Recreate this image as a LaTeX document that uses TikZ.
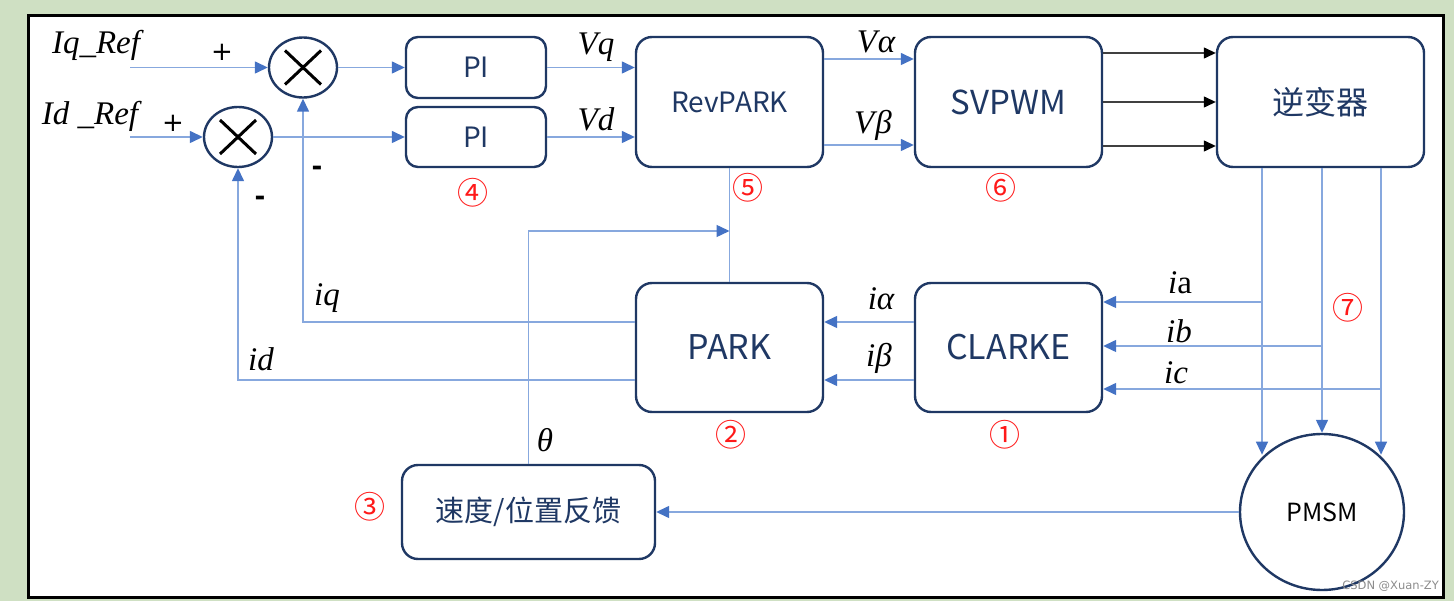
\documentclass[tikz,border=0pt]{standalone}
\usepackage{fontspec}
\setmainfont{Liberation Serif}
\newfontfamily\cjk{Noto Sans CJK SC}
\newfontfamily\djv{DejaVu Sans}
\usetikzlibrary{arrows.meta,shapes.geometric,calc}
\definecolor{bggreen}{RGB}{207,224,195}
\definecolor{navy}{RGB}{31,56,100}
\definecolor{lblue}{RGB}{135,168,222}
\definecolor{ablue}{RGB}{68,114,196}
\definecolor{cred}{RGB}{255,25,25}
\begin{document}
\begin{tikzpicture}[x=1pt,y=-1pt,
  box/.style={draw=navy,line width=2.4pt,rounded corners=16pt,text=navy,inner sep=0pt,font=\cjk\fontsize{30}{36}\selectfont},
  sumj/.style={ellipse,draw=navy,line width=2.4pt,minimum width=68pt,minimum height=60pt,inner sep=0pt},
  arr/.style={draw=lblue,line width=1.4pt,-{Triangle[length=13pt,width=12pt,color=ablue]}},
  plain/.style={draw=lblue,line width=1.4pt},
  barr/.style={draw=black!75,line width=1.3pt,-{Triangle[length=12pt,width=11pt,color=black]}},
  lab/.style={font=\itshape\fontsize{33}{38}\selectfont,inner sep=0pt},
  num/.style={text=cred,font=\cjk\fontsize{31}{34}\selectfont,inner sep=0pt},
  sgn/.style={font=\djv\fontsize{26}{30}\selectfont,inner sep=0pt},
  msgn/.style={font=\djv\bfseries\fontsize{26}{30}\selectfont,inner sep=0pt}
]
\useasboundingbox (0,0) rectangle (1454,601);
\fill[bggreen] (0,0) rectangle (1454,601);
\draw[black,line width=3pt,fill=white] (28,16) rectangle (1443,597);

% blocks
\node[sumj] (S1) at (303,67.5) {};
\node[sumj] (S2) at (238,137) {};
\foreach \s in {S1,S2}{
  \draw[black,line width=3pt] ($(\s)+(-18,-17)$) -- ($(\s)+(18,17)$);
  \draw[black,line width=3pt] ($(\s)+(-18,17)$) -- ($(\s)+(18,-17)$);
}
\node[box,minimum width=140pt,minimum height=61pt,rounded corners=12pt,font=\cjk\fontsize{28}{32}\selectfont] (PI1) at (476,67.5) {PI};
\node[box,minimum width=140pt,minimum height=60pt,rounded corners=12pt,font=\cjk\fontsize{28}{32}\selectfont] (PI2) at (476,137) {PI};
\node[box,minimum width=187pt,minimum height=130pt,font=\cjk\fontsize{28}{32}\selectfont] (RP) at (729.5,102) {RevPARK};
\node[box,minimum width=187pt,minimum height=130pt,font=\cjk\fontsize{33}{38}\selectfont] (SV) at (1008.5,102) {SVPWM};
\node[box,minimum width=207pt,minimum height=130pt,font=\cjk\fontsize{32}{38}\selectfont] (INV) at (1320.5,102) {逆变器};
\node[box,minimum width=187pt,minimum height=129pt,font=\cjk\fontsize{34}{38}\selectfont] (PK) at (729.5,347.5) {PARK};
\node[box,minimum width=187pt,minimum height=129pt,font=\cjk\fontsize{34}{38}\selectfont] (CL) at (1008.5,347.5) {CLARKE};
\node[box,minimum width=253pt,minimum height=94pt,font=\cjk\fontsize{29}{34}\selectfont] (SP) at (528.5,512) {速度/位置反馈};
\node[ellipse,draw=navy,line width=2.4pt,minimum width=164pt,minimum height=156pt,inner sep=0pt,font=\cjk\fontsize{25}{30}\selectfont] (PMSM) at (1322,512) {PMSM};

% helper coordinates
\coordinate (iqin) at (130,67.5);
\coordinate (idin) at (130,137);
\coordinate (xa) at (1262,0);
\coordinate (xb) at (1322,0);
\coordinate (xc) at (1381,0);
\coordinate (ya) at (0,302);
\coordinate (yb) at (0,346);
\coordinate (yc) at (0,389);
\coordinate (yal) at (0,59);
\coordinate (ybe) at (0,145);
\coordinate (yg1) at (0,53);
\coordinate (yg2) at (0,102);
\coordinate (yg3) at (0,146);
\coordinate (yia) at (0,322);
\coordinate (yib) at (0,380);
\coordinate (yth) at (0,231);

% connectors
\draw[arr] (iqin) -- (S1.west);
\draw[arr] (idin) -- (S2.west);
\draw[arr] (S1.east) -- (PI1.west);
\draw[arr] (S2.east) -- (PI2.west);
\draw[arr] (PI1.east) -- (PI1.east -| RP.west);
\draw[arr] (PI2.east) -- (PI2.east -| RP.west);
\draw[arr] (RP.east |- yal) -- (SV.west |- yal);
\draw[arr] (RP.east |- ybe) -- (SV.west |- ybe);
\draw[barr] (SV.east |- yg1) -- (INV.west |- yg1);
\draw[barr] (SV.east |- yg2) -- (INV.west |- yg2);
\draw[barr] (SV.east |- yg3) -- (INV.west |- yg3);
\draw[arr] (INV.south -| xa) -- (xa |- PMSM.135);
\draw[arr] (INV.south -| xb) -- (PMSM.north);
\draw[arr] (INV.south -| xc) -- (xc |- PMSM.45);
\draw[arr] (xa |- ya) -- (CL.east |- ya);
\draw[arr] (xb |- yb) -- (CL.east |- yb);
\draw[arr] (xc |- yc) -- (CL.east |- yc);
\draw[arr] (CL.west |- yia) -- (PK.east |- yia);
\draw[arr] (CL.west |- yib) -- (PK.east |- yib);
\draw[arr] (PK.west |- yia) -| (S1.south);
\draw[arr] (PK.west |- yib) -| (S2.south);
\draw[plain] (RP.south) -- (PK.north);
\draw[arr] (SP.north) |- (RP.south |- yth);
\draw[arr] (PMSM.west) -- (SP.east);

% labels
\node[lab] (lIq) at (96,45) {Iq\_Ref};
\node[lab] (lId) at (90,116) {Id \_Ref};
\node[sgn] (p1) at (222,52) {+};
\node[sgn] (p2) at (173,123) {+};
\node[msgn] (m1) at (317,171) {-};
\node[msgn] (m2) at (260,201) {-};
\node[lab] (lVq) at (596,47) {Vq};
\node[lab] (lVd) at (596,119) {Vd};
\node[lab] (lVa) at (876,42) {V\kern1pt α};
\node[lab] (lVb) at (873,125) {V\kern1pt β};
\node[lab] (lia) at (881,299) {iα};
\node[lab] (lib) at (879,358) {iβ};
\node[lab] (lxa) at (1180,283) {i\textup{a}};
\node[lab] (lxb) at (1179,331) {ib};
\node[lab] (lxc) at (1176,373) {ic};
\node[lab] (liq) at (327,298) {iq};
\node[lab] (lid) at (261,359) {id};
\node[lab] (lth) at (545,440) {θ};
\node[num] (n4) at (473,193) {④};
\node[num] (n5) at (748,188) {⑤};
\node[num] (n6) at (1001,188) {⑥};
\node[num] (n2) at (731,435) {②};
\node[num] (n1) at (1005,435) {①};
\node[num] (n3) at (370,507) {③};
\node[num] (n7) at (1348,308) {⑦};
\node[anchor=east,text=black!45,font=\djv\fontsize{11.5}{13}\selectfont,inner sep=0pt] (wm) at (1439,586) {CSDN @Xuan-ZY};
\end{tikzpicture}
\end{document}
